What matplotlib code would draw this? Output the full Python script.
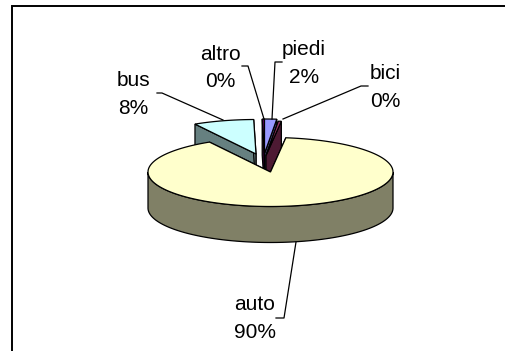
import numpy as np
import matplotlib
matplotlib.use('Agg')
import matplotlib.pyplot as plt

plt.rcParams['font.family'] = ['Liberation Sans', 'DejaVu Sans']

# slices clockwise from 12 o'clock, same order as the original sheet
categories = ['piedi', 'bici', 'auto', 'bus', 'altro']
values = [1.6, 0.4, 89.7, 8.0, 0.3]
pct_labels = ['2%', '0%', '90%', '8%', '0%']

top_colors = {'piedi': '#9999ff', 'bici': '#993366', 'auto': '#ffffcc', 'bus': '#ccffff', 'altro': '#660066'}
wall_colors = {'piedi': '#4c4c80', 'bici': '#4d1a33', 'auto': '#808066', 'bus': '#668080', 'altro': '#330033'}

# pixel position of each slice apex (exploded ones are moved away from the centre)
apex = {'piedi': (264.5, 153.5), 'bici': (266, 155.5), 'auto': (270.5, 172),
        'bus': (256, 154), 'altro': (264.5, 153.5)}
label_pos = {'piedi': (304, 63.5), 'bici': (385.5, 87.5), 'auto': (255, 318.5),
             'bus': (133, 94.5), 'altro': (220, 68)}
leaders = {'piedi': [(282, 62), (275, 62), (272, 119)],
           'bici': [(368, 86), (361, 86), (283, 119)],
           'auto': [(296, 242), (284, 318), (276, 318)],
           'bus': [(157, 93), (162, 93), (223, 120)],
           'altro': [(242, 66), (248, 66), (264, 119)]}

RX, RY = 122.5, 34.5
DEPTH = 36
draw_order = ['altro', 'piedi', 'bici', 'bus', 'auto']

fig = plt.figure(figsize=(5.05, 3.51), dpi=100, facecolor='white')
ax = fig.add_axes([0, 0, 1, 1])
ax.set_xlim(0, 505)
ax.set_ylim(351, 0)
ax.axis('off')

edges = np.cumsum([0] + values) / sum(values) * 2 * np.pi


def rim(cx, cy, t0, t1):
    t = np.linspace(t0, t1, max(int((t1 - t0) * 40), 2))
    return cx + RX * np.sin(t), cy - RY * np.cos(t)


for name in draw_order:
    i = categories.index(name)
    t0, t1 = edges[i], edges[i + 1]
    cx, cy = apex[name]
    z = 3 + draw_order.index(name)

    # cut faces, the one facing the viewer depends on the side of the slice
    for t in (t0, t1):
        x, y = rim(cx, cy, t, t)
        ax.fill([cx, x[0], x[0], cx], [cy, y[0], y[0] + DEPTH, cy + DEPTH],
                fc=wall_colors[name], ec='black', lw=0.9, zorder=z)

    # outer wall, front half of the rim only
    a, b = max(t0, np.pi / 2), min(t1, 3 * np.pi / 2)
    if a < b:
        x, y = rim(cx, cy, a, b)
        ax.fill(np.r_[x, x[::-1]], np.r_[y, y[::-1] + DEPTH],
                fc=wall_colors[name], ec='black', lw=0.9, zorder=z)

    x, y = rim(cx, cy, t0, t1)
    ax.fill(np.r_[cx, x], np.r_[cy, y], fc=top_colors[name], ec='black', lw=0.9, zorder=z)

for name, pct in zip(categories, pct_labels):
    ax.text(*label_pos[name], f'{name}\n{pct}', ha='center', va='center', fontsize=15,
            color='black', linespacing=1.55, zorder=20)
    xs, ys = zip(*leaders[name])
    ax.plot(xs, ys, color='black', lw=0.9, zorder=15)

# only left and top of the chart border are in the crop
ax.plot([12, 12, 505], [351, 6, 6], color='black', lw=1.4, solid_joinstyle='miter', zorder=1)

fig.savefig('out.png', dpi=100, facecolor='white')
